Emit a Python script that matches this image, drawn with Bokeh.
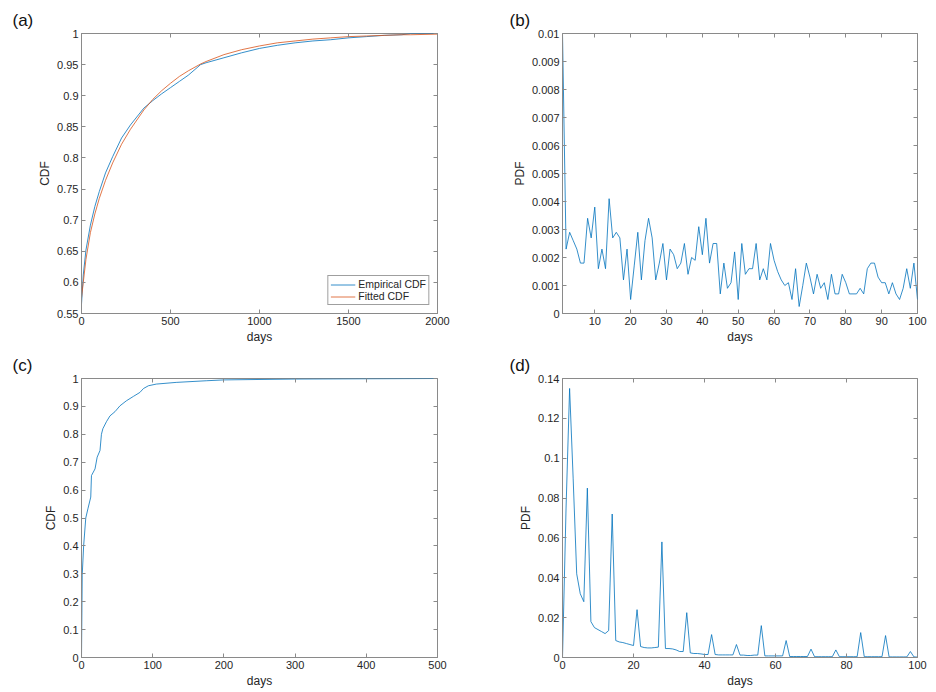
from bokeh.plotting import figure
from bokeh.layouts import column, row
from bokeh.models import LinearAxis, FixedTicker, Range1d
from bokeh.embed import file_html
from bokeh.resources import INLINE

# ---------------- data ----------------
# (a) empirical vs fitted CDF
a_days = [0, 10, 25, 50, 75, 100, 135, 175, 225, 275, 350, 400, 450, 500, 550, 600,
          669, 700, 800, 900, 1000, 1100, 1200, 1300, 1400, 1500, 1600, 1700, 1800, 1850, 2000]
a_empirical = [0.565, 0.612, 0.652, 0.692, 0.722, 0.746, 0.776, 0.802, 0.832, 0.853, 0.880,
               0.892, 0.903, 0.913, 0.923, 0.933, 0.950, 0.953, 0.961, 0.969, 0.976, 0.981,
               0.985, 0.988, 0.990, 0.993, 0.995, 0.997, 0.998, 1.000, 1.000]
a_fitted = [0.575, 0.600, 0.637, 0.680, 0.710, 0.735, 0.764, 0.792, 0.822, 0.846, 0.877,
            0.894, 0.908, 0.920, 0.931, 0.940, 0.951, 0.955, 0.966, 0.974, 0.980, 0.985,
            0.988, 0.991, 0.993, 0.995, 0.996, 0.997, 0.998, 0.998, 0.999]
a_xticks = [0, 500, 1000, 1500, 2000]
a_xtick_labels = ["0", "500", "1000", "1500", "2000"]
a_yticks = [0.55, 0.6, 0.65, 0.7, 0.75, 0.8, 0.85, 0.9, 0.95, 1.0]
a_ytick_labels = ["0.55", "0.6", "0.65", "0.7", "0.75", "0.8", "0.85", "0.9", "0.95", "1"]

# (b) PDF, days 1..100
b_days = list(range(1, 101))
b_pdf = [0.0100, 0.0023, 0.0029, 0.0026, 0.0023, 0.0018, 0.0018, 0.0034, 0.0027, 0.0038,
         0.0016, 0.0023, 0.0016, 0.0041, 0.0027, 0.0029, 0.0027, 0.0012, 0.0023, 0.0005,
         0.0017, 0.0029, 0.0012, 0.0026, 0.0034, 0.0027, 0.0012, 0.0018, 0.0025, 0.0012,
         0.0023, 0.0021, 0.0016, 0.0018, 0.0025, 0.0014, 0.0020, 0.0019, 0.0031, 0.0021,
         0.0034, 0.0018, 0.0025, 0.0025, 0.0007, 0.0018, 0.0009, 0.0011, 0.0022, 0.0005,
         0.0025, 0.0014, 0.0016, 0.0016, 0.0025, 0.0012, 0.0016, 0.0012, 0.0025, 0.0019,
         0.0015, 0.0012, 0.0010, 0.0011, 0.0005, 0.0016, 0.00025, 0.0010, 0.0018, 0.0013,
         0.0007, 0.0014, 0.0009, 0.0011, 0.0005, 0.0014, 0.0007, 0.0007, 0.0014, 0.0011,
         0.0007, 0.0007, 0.0007, 0.0009, 0.0007, 0.0016, 0.0018, 0.0018, 0.0013, 0.0011,
         0.0011, 0.0007, 0.0011, 0.0007, 0.0005, 0.0009, 0.0016, 0.0009, 0.0018, 0.0005]
b_xticks = [10, 20, 30, 40, 50, 60, 70, 80, 90, 100]
b_xtick_labels = ["10", "20", "30", "40", "50", "60", "70", "80", "90", "100"]
b_yticks = [0.0, 0.001, 0.002, 0.003, 0.004, 0.005, 0.006, 0.007, 0.008, 0.009, 0.01]
b_ytick_labels = ["0", "0.001", "0.002", "0.003", "0.004", "0.005", "0.006", "0.007",
                  "0.008", "0.009", "0.01"]

# (c) CDF
c_days = [0, 1, 3, 6, 9, 13, 14, 19, 22, 26, 28, 30, 35, 40, 47, 54, 63, 73, 82, 87, 94,
          105, 133, 176, 200, 300, 400, 500]
c_cdf = [0.0, 0.295, 0.40, 0.50, 0.533, 0.575, 0.652, 0.676, 0.718, 0.742, 0.80, 0.82,
         0.845, 0.866, 0.881, 0.902, 0.92, 0.936, 0.95, 0.964, 0.974, 0.98, 0.986, 0.992,
         0.995, 0.998, 0.999, 1.0]
c_xticks = [0, 100, 200, 300, 400, 500]
c_xtick_labels = ["0", "100", "200", "300", "400", "500"]
c_yticks = [0.0, 0.1, 0.2, 0.3, 0.4, 0.5, 0.6, 0.7, 0.8, 0.9, 1.0]
c_ytick_labels = ["0", "0.1", "0.2", "0.3", "0.4", "0.5", "0.6", "0.7", "0.8", "0.9", "1"]

# (d) PDF, days 0..100
d_days = list(range(0, 101))
d_pdf = [0.0, 0.075, 0.135, 0.090, 0.042, 0.032, 0.028, 0.085, 0.018, 0.015,
         0.014, 0.013, 0.012, 0.0135, 0.072, 0.0085, 0.0078, 0.0075, 0.007, 0.0065,
         0.006, 0.024, 0.0055, 0.005, 0.0048, 0.0048, 0.005, 0.0052, 0.058, 0.0045,
         0.0045, 0.0043, 0.0038, 0.003, 0.003, 0.0225, 0.0023, 0.002, 0.002, 0.0018,
         0.0015, 0.0015, 0.0115, 0.0015, 0.0013, 0.0013, 0.0013, 0.0013, 0.0013, 0.0065,
         0.0012, 0.0012, 0.001, 0.001, 0.0012, 0.0012, 0.016, 0.0008, 0.0008, 0.0008,
         0.0008, 0.0008, 0.0008, 0.0085, 0.0005, 0.0005, 0.0005, 0.0005, 0.0005, 0.0005,
         0.0042, 0.0004, 0.0004, 0.0004, 0.0004, 0.0004, 0.0004, 0.0038, 0.0004, 0.0004,
         0.0004, 0.0004, 0.0004, 0.0004, 0.0125, 0.0004, 0.0004, 0.0004, 0.0004, 0.0004,
         0.0004, 0.011, 0.0003, 0.0003, 0.0003, 0.0003, 0.0003, 0.0003, 0.003, 0.0003,
         0.0002]
d_xticks = [0, 20, 40, 60, 80, 100]
d_xtick_labels = ["0", "20", "40", "60", "80", "100"]
d_yticks = [0.0, 0.02, 0.04, 0.06, 0.08, 0.1, 0.12, 0.14]
d_ytick_labels = ["0", "0.02", "0.04", "0.06", "0.08", "0.1", "0.12", "0.14"]

# ---------------- style ----------------
FONT = "Liberation Sans"
TXT = "#262626"
BOX = "#8a8a8a"
BLUE = "#0072BD"
ORANGE = "#D95319"
LW = 0.8


def panel(width, height, bl, br, bt, bb, xr, yr, xt, xtl, yt, ytl, ylabel, letter, loff):
    p = figure(width=width, height=height, output_backend="svg", toolbar_location=None,
               x_range=Range1d(*xr), y_range=Range1d(*yr),
               min_border_left=bl, min_border_right=br, min_border_top=bt, min_border_bottom=bb,
               x_axis_label="days", y_axis_label=ylabel)
    p.xgrid.visible = False
    p.ygrid.visible = False
    p.outline_line_color = BOX
    p.outline_line_width = 1
    p.background_fill_color = "white"
    p.border_fill_color = "white"

    p.xaxis.ticker = FixedTicker(ticks=xt)
    p.xaxis.major_label_overrides = {float(v): s for v, s in zip(xt, xtl)}
    p.yaxis.ticker = FixedTicker(ticks=yt)
    p.yaxis.major_label_overrides = {float(v): s for v, s in zip(yt, ytl)}
    for ax in (p.xaxis[0], p.yaxis[0]):
        ax.axis_line_color = BOX
        ax.major_tick_line_color = BOX
        ax.major_tick_in = 4
        ax.major_tick_out = 0
        ax.minor_tick_line_color = None
        ax.major_label_text_font = FONT
        ax.major_label_text_font_size = "11px"
        ax.major_label_text_color = TXT
        ax.axis_label_text_font = FONT
        ax.axis_label_text_font_size = "12px"
        ax.axis_label_text_font_style = "normal"
        ax.axis_label_text_color = TXT
        ax.major_label_standoff = 3
        ax.axis_label_standoff = 2

    # MATLAB-style box ticks on the top and right sides
    for loc, ticks in (("above", xt), ("right", yt)):
        ax = LinearAxis(ticker=FixedTicker(ticks=ticks), axis_line_color=None,
                        major_tick_line_color=BOX, major_tick_in=4, major_tick_out=0,
                        minor_tick_line_color=None, major_label_text_font_size="0px",
                        major_label_text_color=None, major_label_standoff=0)
        p.add_layout(ax, loc)

    p.title.text = letter
    p.title.align = "left"
    p.title.offset = loff
    p.title.standoff = 8
    p.title.text_font = FONT
    p.title.text_font_size = "17px"
    p.title.text_font_style = "normal"
    p.title.text_color = "#111111"
    return p


ROW1_H = 346
ROW2_H = 344

pa = panel(468, ROW1_H, 81, 31, 33, 32, (0, 2000), (0.55, 1.0),
           a_xticks, a_xtick_labels, a_yticks, a_ytick_labels, "CDF", "(a)", -69)
pa.line(a_days, a_empirical, color=BLUE, line_width=LW, legend_label="Empirical CDF")
pa.line(a_days, a_fitted, color=ORANGE, line_width=LW, legend_label="Fitted CDF")
lg = pa.legend[0]
lg.location = "bottom_right"
lg.margin = 8
lg.padding = 2
lg.spacing = 0
lg.glyph_width = 25
lg.glyph_height = 11
lg.label_height = 11
lg.label_standoff = 3
lg.label_text_font = FONT
lg.label_text_font_size = "10.5px"
lg.label_text_color = TXT
lg.border_line_color = "#404040"
lg.border_line_width = 1
lg.background_fill_alpha = 1.0

pb = panel(466, ROW1_H, 94, 17, 33, 32, (1, 100), (0, 0.01),
           b_xticks, b_xtick_labels, b_yticks, b_ytick_labels, "PDF", "(b)", -53)
pb.line(b_days, b_pdf, color=BLUE, line_width=LW)

pc = panel(468, ROW2_H, 81, 31, 32, 32, (0, 500), (0, 1.0),
           c_xticks, c_xtick_labels, c_yticks, c_ytick_labels, "CDF", "(c)", -69)
pc.line(c_days, c_cdf, color=BLUE, line_width=LW)

pd_ = panel(466, ROW2_H, 94, 17, 32, 32, (0, 100), (0, 0.14),
            d_xticks, d_xtick_labels, d_yticks, d_ytick_labels, "PDF", "(d)", -53)
pd_.line(d_days, d_pdf, color=BLUE, line_width=LW)

layout = column(row(pa, pb), row(pc, pd_))
open("out.html", "w").write(file_html(layout, INLINE))
